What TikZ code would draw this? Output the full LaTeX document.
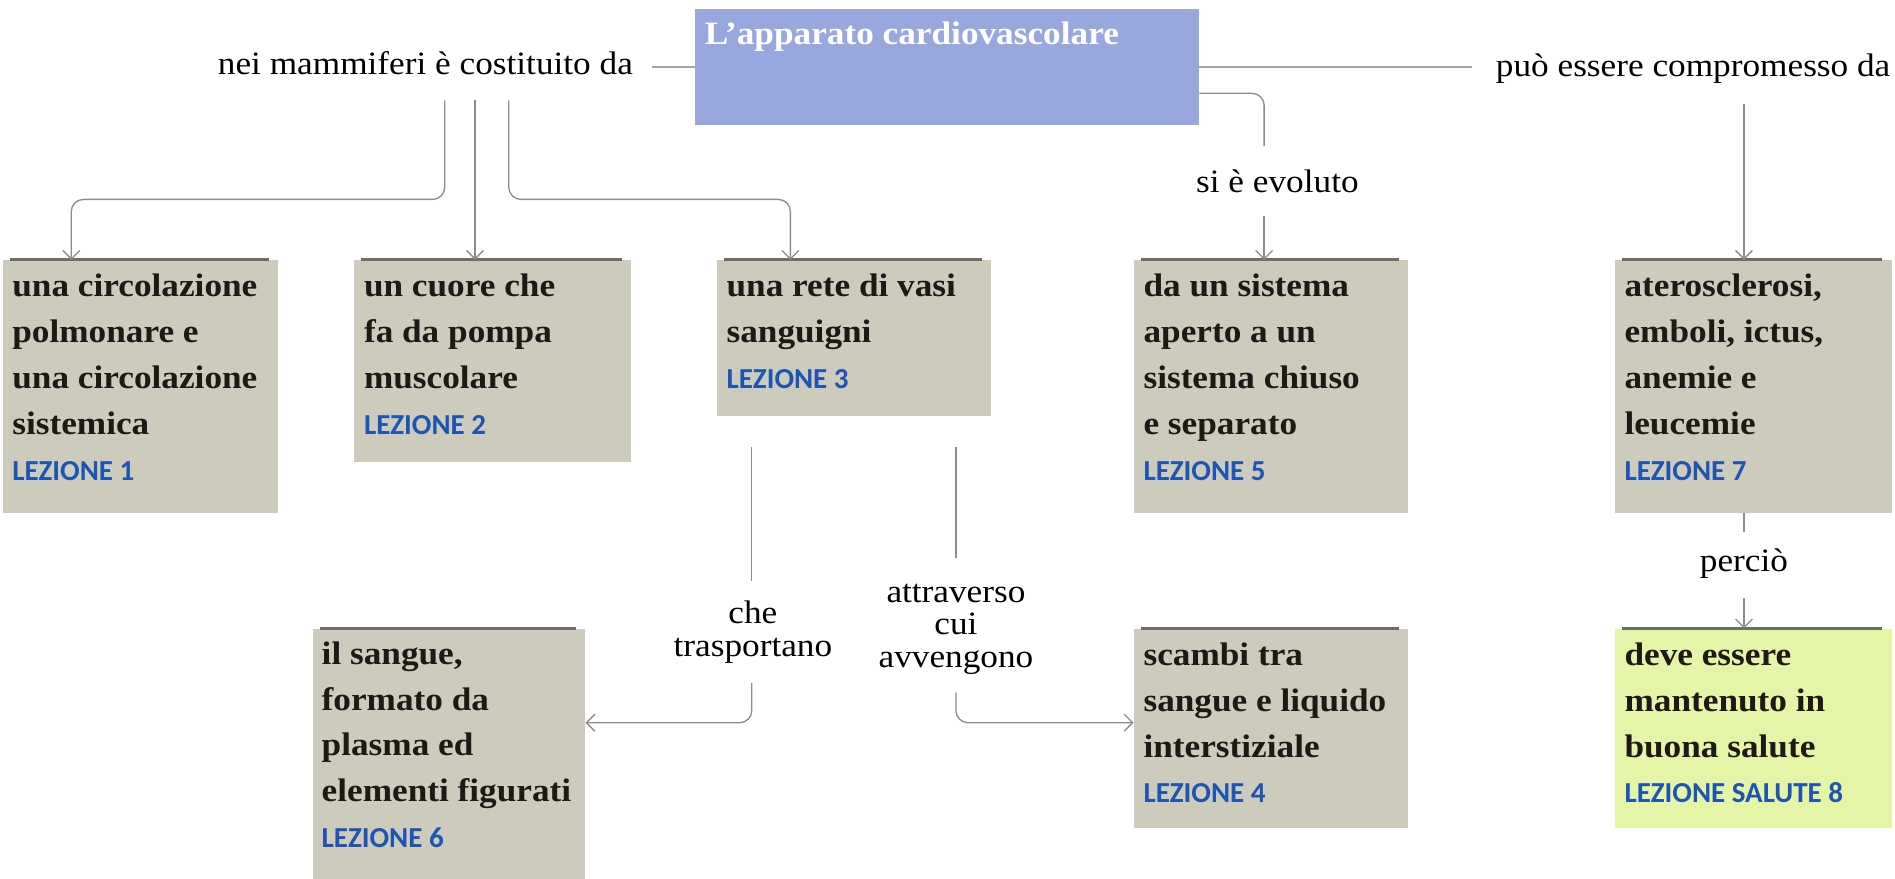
\documentclass[tikz,border=0pt]{standalone}
\usepackage{fontspec}
\usetikzlibrary{arrows.meta}
\newfontfamily\mserif[FakeStretch=1.08]{Liberation Serif}
\newfontfamily\lezf{Carlito}
\definecolor{boxgrey}{RGB}{204,203,188}
\definecolor{bluebox}{RGB}{152,168,222}
\definecolor{greenbox}{RGB}{229,245,168}
\definecolor{topline}{RGB}{110,110,105}
\definecolor{linegrey}{RGB}{140,140,140}
\definecolor{lezblue}{RGB}{30,85,180}
\definecolor{bodytext}{RGB}{30,25,20}
\newcommand\bodyfnt{\mserif\bfseries\fontsize{27}{37.9}\selectfont}
\newcommand\lblfnt{\mserif\fontsize{27}{27}\selectfont}
\newcommand\lezsize{\lezf\fontsize{24}{24}\selectfont\color{lezblue}}
\newcommand\lez[1]{{\lezsize LEZIONE \textbf{#1}}}
\newcommand\fl{\rule{0pt}{30.5pt}}
\begin{document}
\begin{tikzpicture}[x=1pt,y=-1pt,
  gbox/.style={fill=boxgrey, inner sep=0pt, anchor=north west},
  btext/.style={anchor=north west, inner sep=0pt, align=left, text=bodytext, font=\bodyfnt},
  lbl/.style={inner sep=0pt, align=center, text=black, font=\lblfnt},
  conn/.style={draw=linegrey, line width=1.1pt, rounded corners=10pt},
  hline/.style={draw=linegrey!80, line width=1.8pt},
  arr/.style={conn, -{Straight Barb[length=7pt,width=14pt]}},
  topl/.style={draw=topline, line width=2.5pt}]
\useasboundingbox (0,0) rectangle (1568,727);
\fill[white] (0,0) rectangle (1568,727);

% title box
\node[fill=bluebox, inner sep=0pt, anchor=north west, minimum width=417pt, minimum height=96pt] (cb) at (575,7) {};
\node[anchor=base west, inner sep=0pt, text=white, font=\mserif\bfseries\fontsize{27}{27}\selectfont] (cbt) at (583,37) {L’apparato cardiovascolare};

% concept boxes
\node[gbox, minimum width=228pt, minimum height=209pt] (b1) at (2,215) {};
\node[gbox, minimum width=229pt, minimum height=167pt] (b2) at (293,215) {};
\node[gbox, minimum width=227pt, minimum height=129pt] (b3) at (593,215) {};
\node[gbox, minimum width=227pt, minimum height=209pt] (b5) at (938,215) {};
\node[gbox, minimum width=229pt, minimum height=209pt] (b7) at (1336,215) {};
\node[gbox, minimum width=225pt, minimum height=215pt] (b6) at (259,520) {};
\node[gbox, minimum width=227pt, minimum height=165pt] (b4) at (938,520) {};
\node[gbox, fill=greenbox, minimum width=229pt, minimum height=165pt] (b8) at (1336,520) {};

\foreach \b in {b1,b2,b3,b5,b7,b6,b4,b8}{
  \draw[topl] ([xshift=6pt]\b.north west) -- ([xshift=-8pt]\b.north east);
}

\node[btext] (b1t) at ([xshift=8pt]b1.north west) {\fl una circolazione\\polmonare e\\una circolazione\\sistemica\\\lez{1}};
\node[btext] (b2t) at ([xshift=8pt]b2.north west) {\fl un cuore che\\fa da pompa\\muscolare\\\lez{2}};
\node[btext] (b3t) at ([xshift=8pt]b3.north west) {\fl una rete di vasi\\sanguigni\\\lez{3}};
\node[btext] (b5t) at ([xshift=8pt]b5.north west) {\fl da un sistema\\aperto a un\\sistema chiuso\\e separato\\\lez{5}};
\node[btext] (b7t) at ([xshift=8pt]b7.north west) {\fl aterosclerosi,\\emboli, ictus,\\anemie e\\leucemie\\\lez{7}};
\node[btext] (b6t) at ([xshift=7pt]b6.north west) {\rule{0pt}{29.5pt}il sangue,\\formato da\\plasma ed\\elementi figurati\\\lez{6}};
\node[btext] (b4t) at ([xshift=8pt]b4.north west) {\fl scambi tra\\sangue e liquido\\interstiziale\\\lez{4}};
\node[btext] (b8t) at ([xshift=8pt]b8.north west) {\fl deve essere\\mantenuto in\\buona salute\\{\lezsize LEZIONE SALUTE \textbf{8}}};

% labels
\node[lbl, anchor=base] (l1) at (352,62) {nei mammiferi è costituito da};
\node[lbl, anchor=base] (l2) at (1401,63) {può essere compromesso da};
\node[lbl, anchor=base] (l5) at (1057,159) {si è evoluto};
\node[lbl, anchor=north] (l6) at (623,496) {\rule{0pt}{20pt}che\\trasportano};
\node[lbl, anchor=north] (l4) at (791,478) {\rule{0pt}{20pt}attraverso\\cui\\avvengono};
\node[lbl, anchor=base] (l8) at (1443,473) {perciò};

% top horizontal connectors
\coordinate (l1e) at ([xshift=16pt]l1.east);
\coordinate (l2w) at ([xshift=-20pt]l2.west);
\draw[hline] (cb.west) -- (cb.west -| l1e);
\draw[hline] (cb.east) -- (cb.east -| l2w);

% from "nei mammiferi..."
\coordinate (s1) at (368,83);
\coordinate (s2) at (393,83);
\coordinate (s3) at (421,83);
\draw[arr] (s1) |- ([xshift=57pt,yshift=50pt]b1.north west) -- ([xshift=57pt]b1.north west);
\draw[arr] (s2) -- (s2 |- b2.north);
\draw[arr] (s3) |- ([xshift=61pt,yshift=50pt]b3.north west) -- ([xshift=61pt]b3.north west);

% si è evoluto
\coordinate (e5) at (1046,121);
\coordinate (f5) at (1046,179);
\draw[conn] ([yshift=-22pt]cb.east) -| (e5);
\draw[arr] (f5) -- (f5 |- b5.north);

% può essere compromesso da
\coordinate (s7) at (1443,86);
\draw[arr] (s7) -- (s7 |- b7.north);

% perciò
\coordinate (g8) at (1443,440);
\coordinate (h8) at (1443,495);
\draw[conn] (b7.south -| g8) -- (g8);
\draw[arr] (h8) -- (h8 |- b8.north);

% che trasportano / attraverso cui avvengono
\coordinate (y598) at (0,598);
\coordinate (t1) at (622,370);
\coordinate (t2) at (622,481);
\coordinate (t3) at (622,565);
\draw[conn] (t1) -- (t2);
\draw[arr] (t3) |- (b6.east |- y598);
\coordinate (u1) at (791,370);
\coordinate (u2) at (791,462);
\coordinate (u3) at (791,573);
\draw[conn] (u1) -- (u2);
\draw[arr] (u3) |- (b4.west |- y598);
\end{tikzpicture}
\end{document}
